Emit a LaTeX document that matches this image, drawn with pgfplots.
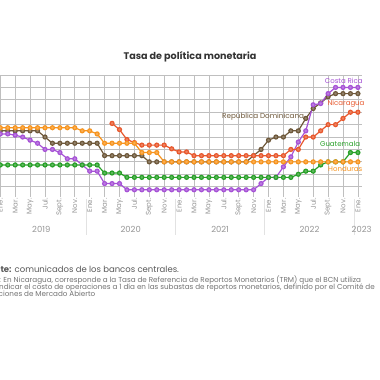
\documentclass[border=0pt]{standalone}
\usepackage{pgfplots}
\pgfplotsset{compat=1.18}
\usepackage{fontspec}
\setmainfont{Poppins}
\definecolor{cr}{RGB}{166,82,214}
\definecolor{ni}{RGB}{232,88,45}
\definecolor{rd}{RGB}{110,88,58}
\definecolor{gt}{RGB}{40,160,40}
\definecolor{hn}{RGB}{247,148,30}
\definecolor{tit}{RGB}{51,51,51}
\definecolor{tick}{RGB}{150,150,150}
\definecolor{grid}{RGB}{226,226,226}
\begin{document}
\begin{tikzpicture}[x=1pt,y=1pt]
\path[use as bounding box] (0,0) rectangle (380,380);
\clip (0,0) rectangle (380,380);
\fill[white] (0,0) rectangle (380,380);
\node[font=\fontsize{9.6}{11}\selectfont\bfseries, text=tit] at (190,323) {Tasa de política monetaria};
\begin{axis}[at={(-14.6pt,183.4pt)}, anchor=south west, scale only axis,
  width=376.6pt, height=121.6pt, xmin=-2, xmax=48.55, ymin=0.2, ymax=10,
  axis line style={draw=none}, tick style={draw=none},
  ytick={1,2,...,10}, yticklabels={}, ymajorgrids, grid style={grid, line width=0.8pt},
  xtick={0,2,...,48},
  xticklabels={Ene.,Mar.,May.,Jul.,Sept.,Nov.,Ene.,Mar.,May.,Jul.,Sept.,Nov.,Ene.,Mar.,May.,Jul.,Sept.,Nov.,Ene.,Mar.,May.,Jul.,Sept.,Nov.,Ene.},
  xticklabel style={rotate=90, anchor=east, font=\fontsize{7}{8}\selectfont, text=tick, inner sep=1.5pt},
  clip=false,
  every axis plot/.append style={line width=1.2pt, mark=*, mark size=2.0pt},
]
\foreach \s in {11.5,23.5,35.5,47.5} {\edef\tmp{\noexpand\draw[grid, line width=0.8pt] (axis cs:\s,0) -- (axis cs:\s,-2.9);}\tmp}
\foreach \yr/\pos in {2019/5.5,2020/17.5,2021/29.5,2022/41.5,2023/48.5} {\edef\tmp{\noexpand\node[font=\noexpand\fontsize{8.4}{9}\noexpand\selectfont, text=tick] at (axis cs:\pos,-2.45) {\yr};}\tmp}

\addplot[rd, mark options={fill=rd!75!white, draw=rd}] coordinates {
(0,5.5)(1,5.5)(2,5.5)(3,5.5)(4,5.5)(5,5.5)(6,5.0)(7,4.5)(8,4.5)(9,4.5)(10,4.5)(11,4.5)(12,4.5)(13,4.5)
(14,3.5)(15,3.5)(16,3.5)(17,3.5)(18,3.5)(19,3.5)(20,3.0)(21,3.0)(22,3.0)(23,3.0)(24,3.0)(25,3.0)(26,3.0)
(27,3.0)(28,3.0)(29,3.0)(30,3.0)(31,3.0)(32,3.0)(33,3.0)(34,3.5)(35,4.0)(36,4.75)(37,5.0)(38,5.0)(39,5.5)
(40,5.5)(41,6.5)(42,7.3)(43,7.75)(44,8.25)(45,8.5)(46,8.5)(47,8.5)(48,8.5)};
\addplot[cr, mark options={fill=cr!75!white, draw=cr}] coordinates {
(0,5.25)(1,5.25)(2,5.15)(3,5.0)(4,4.75)(5,4.5)(6,4.0)(7,4.0)(8,3.75)(9,3.25)(10,3.25)(11,2.75)(12,2.25)
(13,2.25)(14,1.25)(15,1.25)(16,1.25)(17,0.75)(18,0.75)(19,0.75)(20,0.75)(21,0.75)(22,0.75)(23,0.75)(24,0.75)
(25,0.75)(26,0.75)(27,0.75)(28,0.75)(29,0.75)(30,0.75)(31,0.75)(32,0.75)(33,0.75)(34,0.75)(35,1.25)(36,1.75)
(37,1.75)(38,2.6)(39,3.4)(40,4.6)(41,5.5)(42,7.6)(43,7.7)(44,8.5)(45,9.0)(46,9.0)(47,9.0)(48,9.0)};
\addplot[ni, mark options={fill=ni!75!white, draw=ni}] coordinates {
(15,6.1)(16,5.6)(17,4.8)(18,4.55)(19,4.35)(20,4.35)(21,4.35)(22,4.35)(23,4.05)(24,3.8)(25,3.8)(26,3.5)
(27,3.5)(28,3.5)(29,3.5)(30,3.5)(31,3.5)(32,3.5)(33,3.5)(34,3.5)(35,3.5)(36,3.5)(37,3.5)(38,3.5)(39,4.0)
(40,4.0)(41,5.0)(42,5.0)(43,5.5)(44,6.0)(45,6.0)(46,6.5)(47,7.0)(48,7.0)};
\addplot[gt, mark options={fill=gt!75!white, draw=gt}] coordinates {
(0,2.75)(1,2.75)(2,2.75)(3,2.75)(4,2.75)(5,2.75)(6,2.75)(7,2.75)(8,2.75)(9,2.75)(10,2.75)(11,2.75)(12,2.75)
(13,2.75)(14,2.1)(15,2.1)(16,2.1)(17,1.75)(18,1.75)(19,1.75)(20,1.75)(21,1.75)(22,1.75)(23,1.75)(24,1.75)
(25,1.75)(26,1.75)(27,1.75)(28,1.75)(29,1.75)(30,1.75)(31,1.75)(32,1.75)(33,1.75)(34,1.75)(35,1.75)(36,1.75)
(37,1.75)(38,1.75)(39,1.75)(40,2.0)(41,2.25)(42,2.25)(43,2.75)(44,3.0)(45,3.0)(46,3.0)(47,3.75)(48,3.75)};
\addplot[hn, mark options={fill=hn!75!white, draw=hn}] coordinates {
(0,5.75)(1,5.75)(2,5.75)(3,5.75)(4,5.75)(5,5.75)(6,5.75)(7,5.75)(8,5.75)(9,5.75)(10,5.75)(11,5.5)(12,5.5)
(13,5.25)(14,4.5)(15,4.5)(16,4.5)(17,4.5)(18,4.5)(19,3.75)(20,3.75)(21,3.75)(22,3.0)(23,3.0)(24,3.0)(25,3.0)
(26,3.0)(27,3.0)(28,3.0)(29,3.0)(30,3.0)(31,3.0)(32,3.0)(33,3.0)(34,3.0)(35,3.0)(36,3.0)(37,3.0)(38,3.0)
(39,3.0)(40,3.0)(41,3.0)(42,3.0)(43,3.0)(44,3.0)(45,3.0)(46,3.0)(47,3.0)(48,3.0)};

\node[font=\fontsize{7}{8}\selectfont, text=cr] at (axis cs:46.1,9.52) {Costa Rica};
\node[font=\fontsize{7}{8}\selectfont, text=ni] at (axis cs:46.4,7.66) {Nicaragua};
\node[font=\fontsize{7.2}{8}\selectfont, text=rd, anchor=east, inner sep=0pt] at (axis cs:40.8,6.62) {República Dominicana};
\node[font=\fontsize{7}{8}\selectfont, text=gt] at (axis cs:45.6,4.44) {Guatemala};
\node[font=\fontsize{7}{8}\selectfont, text=hn] at (axis cs:46.3,2.43) {Honduras};
\end{axis}
\node[anchor=base west, inner sep=0pt, font=\fontsize{8.5}{9}\selectfont, text=black!65] at (-21,107) {\textbf{Fuente:} comunicados de los bancos centrales.};
\node[anchor=base west, inner sep=0pt, font=\fontsize{7.2}{7}\selectfont, text=black!55] at (-18,97.5) {Nota: En Nicaragua, corresponde a la Tasa de Referencia de Reportos Monetarios (TRM) que el BCN utiliza};
\node[anchor=base west, inner sep=0pt, font=\fontsize{7.2}{7}\selectfont, text=black!55] at (-22,90.5) {para indicar el costo de operaciones a 1 día en las subastas de reportos monetarios, definido por el Comité de};
\node[anchor=base west, inner sep=0pt, font=\fontsize{7.2}{7}\selectfont, text=black!55] at (-24,83.5) {Operaciones de Mercado Abierto};
\end{tikzpicture}
\end{document}
